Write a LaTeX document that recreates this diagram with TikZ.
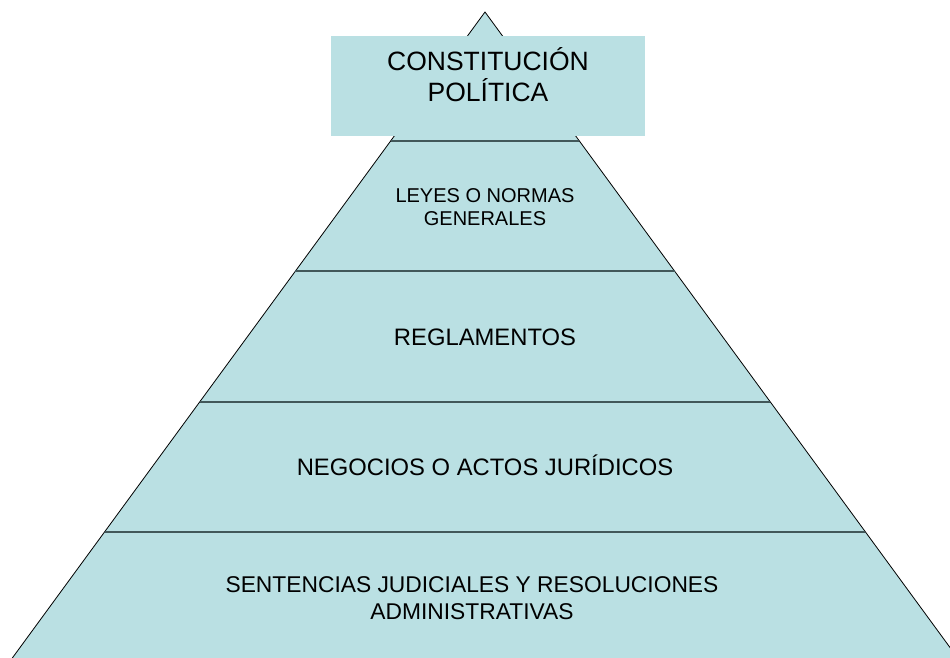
\documentclass[tikz,border=0pt]{standalone}
\usepackage{fontspec}
\setmainfont{Liberation Sans}
\usepackage{tikz}
\usetikzlibrary{calc}

\definecolor{fondopir}{RGB}{186,224,227}
\definecolor{lineapir}{RGB}{66,88,90}

\tikzset{
  franja/.style={draw=lineapir, line width=2pt},
  rotulo/.style={align=center, anchor=base, text=black},
}

\begin{document}
\begin{tikzpicture}[x=1pt, y=-1pt]

% cornice
\useasboundingbox (0,0) rectangle (950,657);
\clip (0,0) rectangle (950,657);

% vertici della piramide
\coordinate (V) at (485,12);    % vertice
\coordinate (BL) at (5,668);    % base sinistra
\coordinate (BR) at (965,668);  % base destra

% piramide
\draw[fill=fondopir, line width=0.8pt] (V) -- (BL) -- (BR) -- cycle;

% livelli
\foreach \y in {141,271,402,532} {
  \draw[franja] ($(V)!{(\y-12)/656}!(BL)$) -- ($(V)!{(\y-12)/656}!(BR)$);
}

% riquadro in cima
\fill[fondopir] (331,36) rectangle (645,136);

% testi (base = ultima riga)
\node[rotulo, font=\fontsize{26.5}{31}\selectfont] (cost) at (488,101) {CONSTITUCIÓN\\POLÍTICA};
\node[rotulo, font=\fontsize{20}{23}\selectfont] (leyes) at (485,225) {LEYES O NORMAS\\GENERALES};
\node[rotulo, font=\fontsize{23.8}{27}\selectfont] (regl) at (485,345) {REGLAMENTOS};
\node[rotulo, font=\fontsize{23.8}{27}\selectfont] (neg) at (485,475) {NEGOCIOS O ACTOS JURÍDICOS};
\node[rotulo, font=\fontsize{22.8}{27}\selectfont] (sent) at (472,619.5) {SENTENCIAS JUDICIALES Y RESOLUCIONES\\ADMINISTRATIVAS};

\end{tikzpicture}
\end{document}
